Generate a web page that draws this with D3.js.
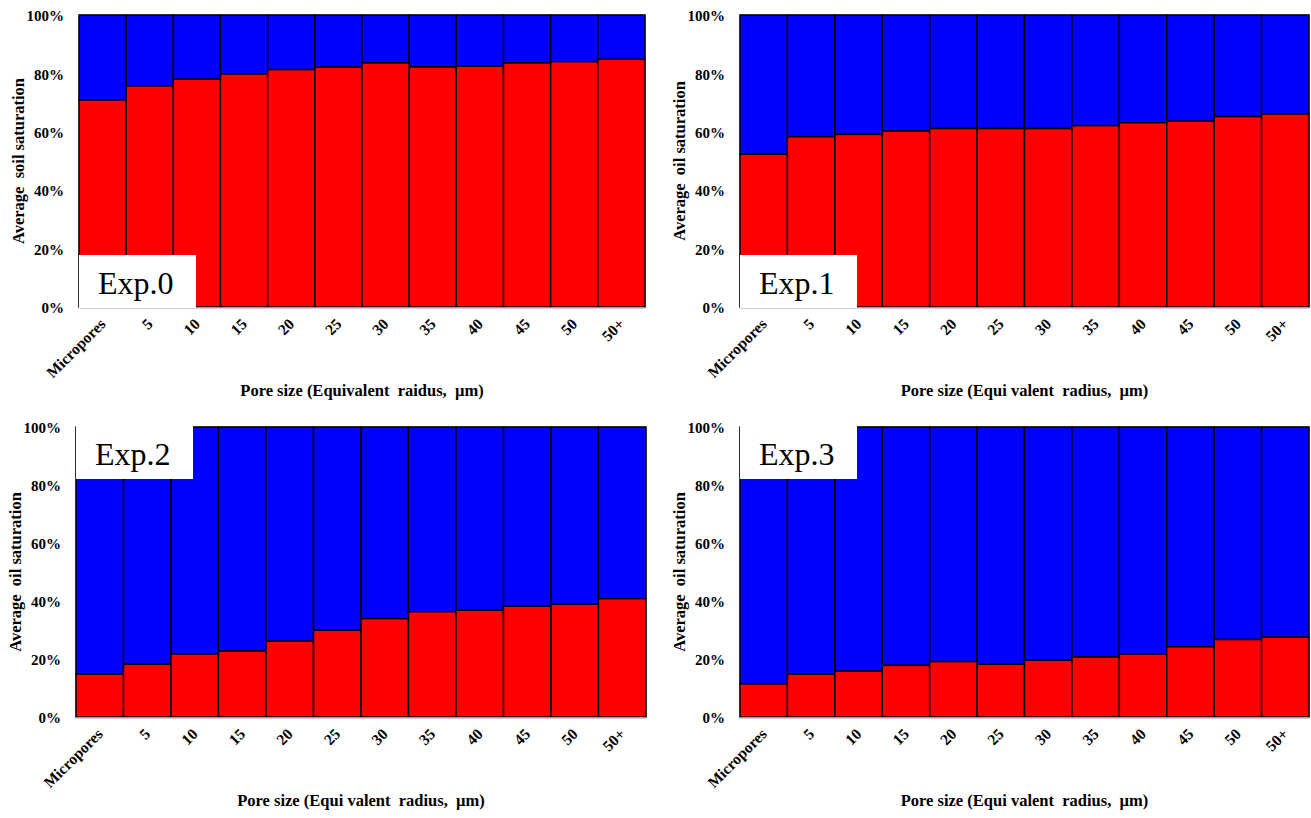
<!DOCTYPE html>
<html>
<head>
<meta charset="utf-8">
<script src="https://cdn.jsdelivr.net/npm/d3@7"></script>
<style>
  body { margin: 0; background: #fff; }
  svg { display: block; }
  text { font-family: "Liberation Serif", "Times New Roman", serif; }
</style>
</head>
<body>
<svg id="chart" width="1311" height="818"></svg>
<script>
// pore size classes
const categories = ["Micropores", "5", "10", "15", "20", "25", "30", "35", "40", "45", "50", "50+"];

// red share (oil) per class
const exp0Oil = [0.709, 0.757, 0.780, 0.798, 0.813, 0.821, 0.836, 0.822, 0.825, 0.836, 0.840, 0.848];
const exp1Oil = [0.523, 0.583, 0.591, 0.602, 0.611, 0.611, 0.611, 0.621, 0.631, 0.636, 0.652, 0.661];
const exp2Oil = [0.148, 0.182, 0.217, 0.227, 0.261, 0.299, 0.339, 0.363, 0.368, 0.382, 0.389, 0.408];
const exp3Oil = [0.114, 0.148, 0.158, 0.178, 0.191, 0.182, 0.196, 0.207, 0.217, 0.242, 0.267, 0.275];

const yTicks = [0, 0.2, 0.4, 0.6, 0.8, 1.0];
const expNames = ["Exp.0", "Exp.1", "Exp.2", "Exp.3"];
const yTitles = ["Average  soil saturation", "Average  oil saturation", "Average  oil saturation", "Average  oil saturation"];
const xTitles = [
  "Pore size (Equivalent  raidus,  \u00b5m)",
  "Pore size (Equi valent  radius,  \u00b5m)",
  "Pore size (Equi valent  radius,  \u00b5m)",
  "Pore size (Equi valent  radius,  \u00b5m)"
];

const panels = [
  { left: 79,  right: 645,  top: 15,  bottom: 307, values: exp0Oil, labelPos: "bottom" },
  { left: 740, right: 1309, top: 15,  bottom: 307, values: exp1Oil, labelPos: "bottom" },
  { left: 76,  right: 646,  top: 427, bottom: 717, values: exp2Oil, labelPos: "top" },
  { left: 740, right: 1309, top: 427, bottom: 717, values: exp3Oil, labelPos: "top" }
];

const svg = d3.select("#chart");

panels.forEach((p, i) => {
  const x = d3.scaleBand()
    .domain(categories)
    .range([p.left, p.right])
    .padding(0);

  const y = d3.scaleLinear()
    .domain([0, 1])
    .range([p.bottom, p.top]);

  const g = svg.append("g");

  // plot frame
  g.append("rect")
    .attr("x", p.left)
    .attr("y", p.top)
    .attr("width", p.right - p.left)
    .attr("height", p.bottom - p.top)
    .attr("fill", "none")
    .attr("stroke", "#8c8c8c")
    .attr("stroke-width", 1);

  // blue part (remainder up to 100%)
  g.selectAll("rect.water")
    .data(p.values)
    .join("rect")
    .attr("class", "water")
    .attr("x", (d, j) => x(categories[j]))
    .attr("y", y(1))
    .attr("width", x.bandwidth())
    .attr("height", d => y(d) - y(1))
    .attr("fill", "#0000ff")
    .attr("stroke", "#000")
    .attr("stroke-width", 1.5);

  // red part (oil)
  g.selectAll("rect.oil")
    .data(p.values)
    .join("rect")
    .attr("class", "oil")
    .attr("x", (d, j) => x(categories[j]))
    .attr("y", d => y(d))
    .attr("width", x.bandwidth())
    .attr("height", d => y(0) - y(d))
    .attr("fill", "#ff0000")
    .attr("stroke", "#000")
    .attr("stroke-width", 1.5);

  // bottom axis line
  g.append("line")
    .attr("x1", p.left).attr("x2", p.right)
    .attr("y1", p.bottom + 1).attr("y2", p.bottom + 1)
    .attr("stroke", "#bfbfbf")
    .attr("stroke-width", 1.5);

  // y axis labels
  const yAxis = d3.axisLeft(y)
    .tickValues(yTicks)
    .tickFormat(d3.format(".0%"))
    .tickSize(0)
    .tickPadding(15);

  g.append("g")
    .attr("transform", `translate(${p.left},0)`)
    .call(yAxis)
    .call(a => a.select(".domain").remove())
    .selectAll("text")
    .attr("font-weight", "bold")
    .attr("font-size", 15)
    .attr("fill", "#000")
    .attr("dy", "0.38em");

  // x tick labels, rotated
  g.selectAll("text.xtick")
    .data(categories)
    .join("text")
    .attr("class", "xtick")
    .attr("transform", d => `translate(${x(d) + x.bandwidth() / 2 + 4},${p.bottom + 18}) rotate(-45)`)
    .attr("text-anchor", "end")
    .attr("font-weight", "bold")
    .attr("font-size", 15.5)
    .attr("fill", "#000")
    .text(d => d);

  // axis titles
  g.append("text")
    .attr("transform", `translate(${p.left - 55},${(p.top + p.bottom) / 2}) rotate(-90)`)
    .attr("text-anchor", "middle")
    .attr("font-weight", "bold")
    .attr("font-size", 16.5)
    .attr("fill", "#000")
    .style("white-space", "pre")
    .text(yTitles[i]);

  g.append("text")
    .attr("x", (p.left + p.right) / 2)
    .attr("y", p.bottom + 89)
    .attr("text-anchor", "middle")
    .attr("font-weight", "bold")
    .attr("font-size", 16.5)
    .attr("fill", "#000")
    .style("white-space", "pre")
    .text(xTitles[i]);

  // experiment label box
  const boxW = 117, boxH = 53;
  const boxY = p.labelPos === "bottom" ? p.bottom - boxH + 1 : p.top - 1;
  g.append("rect")
    .attr("x", p.left)
    .attr("y", boxY)
    .attr("width", boxW)
    .attr("height", boxH)
    .attr("fill", "#fff");

  g.append("text")
    .attr("x", p.left + 19)
    .attr("y", boxY + 39)
    .attr("font-size", 32)
    .attr("fill", "#000")
    .text(expNames[i]);
});
</script>
</body>
</html>
